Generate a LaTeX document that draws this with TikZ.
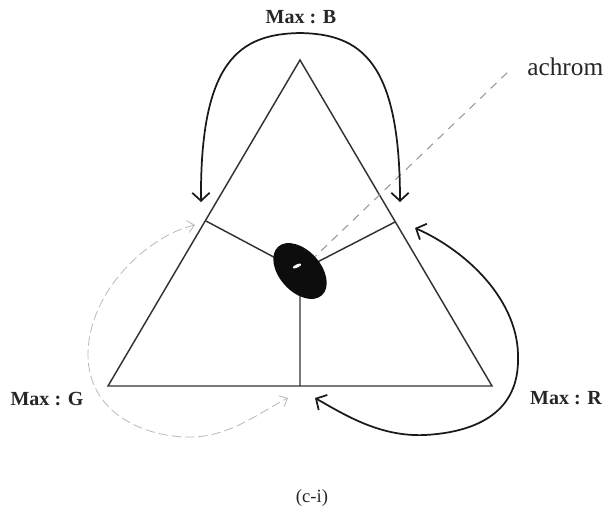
\documentclass[tikz,border=0pt]{standalone}
\usepackage{fontspec}
\setmainfont{Liberation Serif}
\usetikzlibrary{arrows.meta,shapes.geometric}
\begin{document}
\begin{tikzpicture}[x=0.75pt,y=-0.75pt,
  tri/.style={draw=black!80,line width=1.1pt},
  bigarrow/.style={draw=black!90,line width=1.3pt,{Straight Barb[length=6pt,width=13pt]}-{Straight Barb[length=6pt,width=13pt]}},
  grayarrow/.style={draw=black!28,line width=0.6pt,dash pattern=on 7pt off 3pt,{Straight Barb[length=5pt,width=9pt]}-{Straight Barb[length=5pt,width=9pt]}},
  maxlbl/.style={font=\bfseries\fontsize{15}{18}\selectfont, text=black!85, inner sep=0pt},
  plainlbl/.style={text=black!85, inner sep=0pt}]
\useasboundingbox (0,0) rectangle (606,511);
% triangle
\coordinate (A) at (300,60);
\coordinate (L) at (108,386);
\coordinate (R) at (492,386);
\coordinate (fl) at (206,221);
\coordinate (fr) at (395,222);
\coordinate (fb) at (300,386);
\coordinate (c) at (300,271);
\draw[tri] (A) -- (L) -- (R) -- cycle;
\draw[tri] (fl) -- (c) (fr) -- (c) (fb) -- (c);
% dashed line to achrom
\coordinate (achend) at (510,70);
\draw[draw=black!40,line width=0.8pt,dash pattern=on 6pt off 5pt] (c) -- (achend);
% achromatic ellipse
\node[ellipse, fill=black!95, minimum width=49pt, minimum height=31pt, inner sep=0pt, rotate=-48] (ach) at (c) {};
\fill[white, rotate around={25:(297,266)}] (297,266) ellipse [x radius=3.5pt, y radius=1.2pt];
% labels
\node[maxlbl] (lB) at (301,17) {Max : B};
\node[maxlbl] (lG) at (47,399) {Max : G};
\node[maxlbl] (lR) at (566,398) {Max : R};
\node[plainlbl, font=\fontsize{19}{22}\selectfont, anchor=base west] (lach) at (527,75) {achrom};
\node[plainlbl, font=\fontsize{14}{17}\selectfont] (cap) at (312,498) {(c-i)};
% arrows
\coordinate (b1) at (201,202);
\coordinate (b2) at (400,202);
\draw[bigarrow] (b1) .. controls (200,60) and (240,34) .. (300,33) .. controls (360,34) and (400,60) .. (b2);
\coordinate (r1) at (415,228);
\coordinate (r2) at (315,398);
\draw[bigarrow] (r1) .. controls (465,250) and (520,300) .. (518,360) .. controls (518,410) and (480,432) .. (425,435) .. controls (380,437) and (345,415) .. (r2);
\coordinate (g1) at (195,225);
\coordinate (g2) at (288,398);
\draw[grayarrow] (g1) .. controls (150,235) and (88,290) .. (88,355) .. controls (88,410) and (140,437) .. (190,437) .. controls (230,437) and (260,412) .. (g2);
\end{tikzpicture}
\end{document}
